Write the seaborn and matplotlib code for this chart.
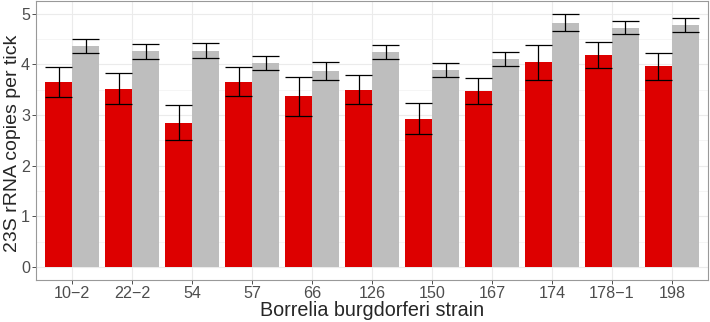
import numpy as np
import pandas as pd
import matplotlib
matplotlib.use("Agg")
import matplotlib.pyplot as plt
import seaborn as sns
from matplotlib.ticker import MultipleLocator

# Данные
strains = ["10−2", "22−2", "54", "57", "66", "126", "150", "167", "174", "178−1", "198"]
red_means = [3.65, 3.52, 2.85, 3.66, 3.37, 3.50, 2.93, 3.47, 4.04, 4.19, 3.96]
red_err = [0.30, 0.30, 0.35, 0.28, 0.39, 0.29, 0.30, 0.26, 0.34, 0.26, 0.26]
grey_means = [4.36, 4.26, 4.27, 4.03, 3.87, 4.25, 3.89, 4.10, 4.82, 4.72, 4.78]
grey_err = [0.135, 0.15, 0.15, 0.14, 0.18, 0.14, 0.14, 0.14, 0.17, 0.13, 0.14]
groups = ["A", "B"]
colors = {"A": "#DD0000", "B": "#BEBEBE"}

df = pd.DataFrame({
    "strain": strains * 2,
    "group": [groups[0]] * len(strains) + [groups[1]] * len(strains),
    "value": red_means + grey_means,
    "err": red_err + grey_err,
})

sns.set_theme(style="white")
plt.rcParams["font.family"] = ["Liberation Sans", "DejaVu Sans"]

fig, ax = plt.subplots(figsize=(7.1, 3.22), dpi=100)
fig.subplots_adjust(left=0.051, right=0.997, top=0.997, bottom=0.13)

sns.barplot(data=df, x="strain", y="value", hue="group", order=strains,
            hue_order=groups, palette=colors, width=0.9, gap=0,
            errorbar=None, saturation=1, linewidth=0, legend=False, ax=ax, zorder=2)

# Планки погрешностей по центрам столбцов
for grp in groups:
    sub = df[df["group"] == grp].set_index("strain").loc[strains]
    cont = ax.containers[groups.index(grp)]
    xs = np.array([p.get_x() + p.get_width() / 2 for p in cont.patches])
    w = cont.patches[0].get_width()
    ax.errorbar(xs, sub["value"], yerr=sub["err"], fmt="none", ecolor="black",
                elinewidth=0.9, capsize=0, zorder=3)
    ax.hlines(sub["value"] - sub["err"], xs - w / 2, xs + w / 2,
              color="black", linewidth=0.9, zorder=3)
    ax.hlines(sub["value"] + sub["err"], xs - w / 2, xs + w / 2,
              color="black", linewidth=0.9, zorder=3)

ax.set_xlim(-0.6, len(strains) - 0.4)
ax.set_ylim(-0.255, 5.25)
ax.yaxis.set_major_locator(MultipleLocator(1))
ax.yaxis.set_minor_locator(MultipleLocator(0.5))
ax.grid(True, which="major", color="#EBEBEB", linewidth=0.8, zorder=0)
ax.grid(True, which="minor", axis="y", color="#F2F2F2", linewidth=0.5, zorder=0)
ax.set_axisbelow(True)
for s in ax.spines.values():
    s.set_color("#999999")
    s.set_linewidth(0.8)

ax.tick_params(axis="both", which="major", length=3, width=0.6, color="#333333",
               labelsize=11.6, labelcolor="#4D4D4D", pad=1.5, bottom=True, left=True)
ax.tick_params(axis="both", which="minor", length=0)
ax.set_xlabel("Borrelia burgdorferi strain", fontsize=14.2, labelpad=0)
ax.set_ylabel("23S rRNA copies per tick", fontsize=14)
ax.yaxis.set_label_coords(-0.023, 0.489)

fig.savefig("out.png", dpi=100)
